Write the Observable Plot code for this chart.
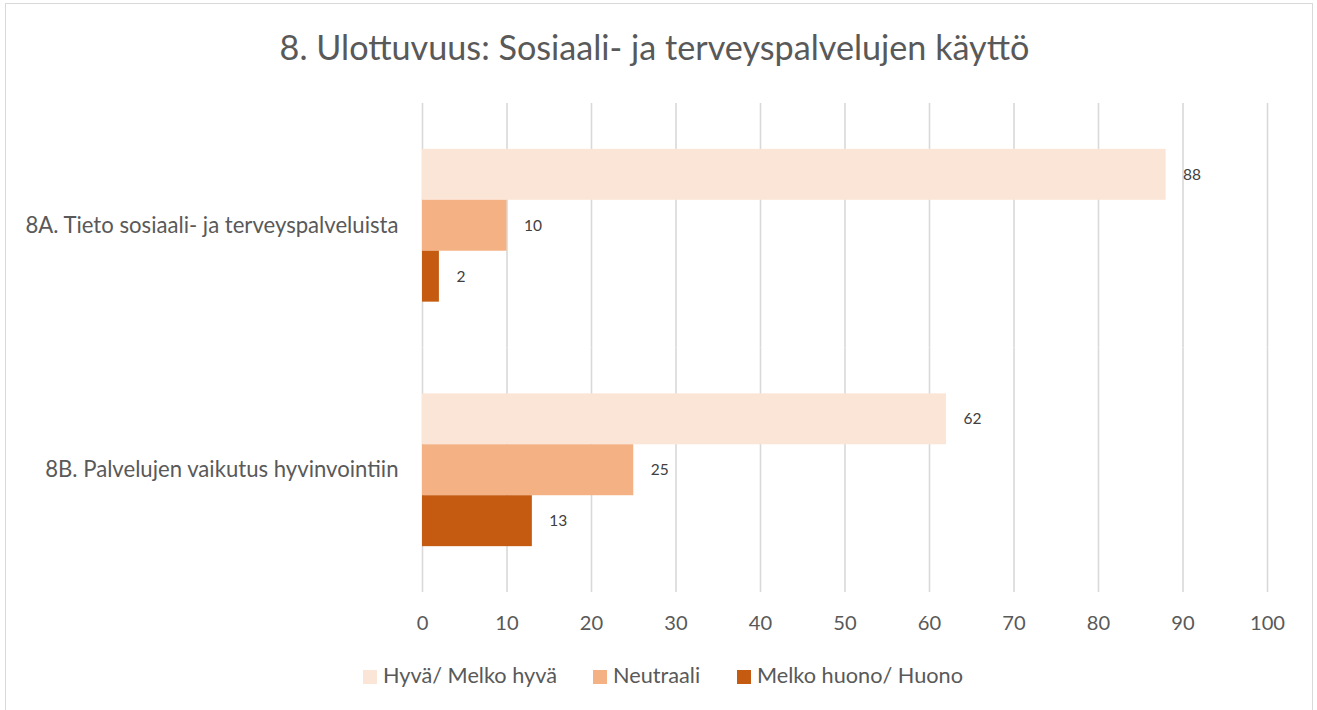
<!DOCTYPE html>
<html>
<head>
<meta charset="utf-8">
<script src="https://cdn.jsdelivr.net/npm/d3@7"></script>
<script src="https://cdn.jsdelivr.net/npm/@observablehq/plot@0.6"></script>
<style>
  html, body { margin: 0; padding: 0; background: #fff; }
  body { width: 1317px; height: 710px; position: relative; overflow: hidden; font-family: Lato, sans-serif; color: #595959; }
  #frame { position: absolute; left: 5px; top: 3px; width: 1308px; height: 730px; border: 1.5px solid #d9d9d9; box-sizing: border-box; }
  #title { position: absolute; left: 0; width: 1317px; text-align: center; line-height: 1; white-space: nowrap; }
  #chart { position: absolute; left: 0; top: 0; }
  .leg { position: absolute; line-height: 1; white-space: nowrap; }
  .sw { position: absolute; width: 14px; height: 14px; }
</style>
</head>
<body>
<div id="frame"></div>
<div id="chart"></div>
<div id="title"></div>
<div id="legend"></div>
<script>
const title = "8. Ulottuvuus: Sosiaali- ja terveyspalvelujen käyttö";
const categories = ["8A. Tieto sosiaali- ja terveyspalveluista", "8B. Palvelujen vaikutus hyvinvointiin"];
const series = ["Hyvä/ Melko hyvä", "Neutraali", "Melko huono/ Huono"];
const colors = ["#FBE5D6", "#F4B183", "#C55A11"];
const values8A = [88, 10, 2];
const values8B = [62, 25, 13];
const xTicks = [0, 10, 20, 30, 40, 50, 60, 70, 80, 90, 100];

const data = [];
[values8A, values8B].forEach((vals, ci) => {
  vals.forEach((v, si) => data.push({category: categories[ci], series: series[si], value: v}));
});

const FAMILY = "Lato";
const ctx = document.createElement("canvas").getContext("2d");
function fit(text, target) {
  ctx.font = `100px ${FAMILY}`;
  return 100 * target / ctx.measureText(text).width;
}
const fsTitle = fit(title, 750);
const fsCat = (fit(categories[0], 375) + fit(categories[1], 353)) / 2;
const fsTick = fit("100", 35);
const fsLabel = fit("10", 18);
const fsLegend = fit(series[0], 174);

// Title
const t = document.getElementById("title");
t.textContent = title;
t.style.fontSize = fsTitle + "px";
t.style.top = (60 - 0.87 * fsTitle) + "px";
t.style.left = "-4px";

const W = 1317, H = 650;
const chart = Plot.plot({
  width: W,
  height: H,
  marginLeft: 422,
  marginRight: 50,
  marginTop: 103,
  marginBottom: H - 592,
  style: {fontFamily: FAMILY, color: "#595959", background: "transparent", overflow: "visible"},
  x: {domain: [0, 100], ticks: xTicks},
  y: {domain: series, paddingInner: 0, paddingOuter: 0.9, round: false, axis: null},
  fy: {domain: categories, padding: 0, round: false, label: null},
  color: {domain: series, range: colors},
  marks: [
    Plot.gridX(xTicks, {stroke: "#d9d9d9", strokeOpacity: 1, strokeWidth: 1.6}),
    Plot.barX(data, {fy: "category", y: "series", x: "value", fill: "series"}),
    Plot.text(data, {fy: "category", y: "series", x: "value", text: d => String(d.value), textAnchor: "start", dx: 17, fontSize: fsLabel, fill: "#404040"}),
    Plot.axisX(xTicks, {tickSize: 0, tickPadding: 23, fontSize: fsTick, label: null, fill: "#595959"}),
    Plot.axisFy({anchor: "left", tickSize: 0, tickPadding: 24, fontSize: fsCat, label: null, fill: "#595959"})
  ]
});
document.getElementById("chart").appendChild(chart);

// Legend
const leg = document.getElementById("legend");
const swX = [363, 593, 737];
series.forEach((s, i) => {
  const sw = document.createElement("div");
  sw.className = "sw";
  sw.style.left = swX[i] + "px";
  sw.style.top = "670px";
  sw.style.background = colors[i];
  leg.appendChild(sw);
  const tx = document.createElement("div");
  tx.className = "leg";
  tx.textContent = s;
  tx.style.fontSize = fsLegend + "px";
  tx.style.left = (swX[i] + 20) + "px";
  tx.style.top = (684 - 0.87 * fsLegend) + "px";
  leg.appendChild(tx);
});
</script>
</body>
</html>
